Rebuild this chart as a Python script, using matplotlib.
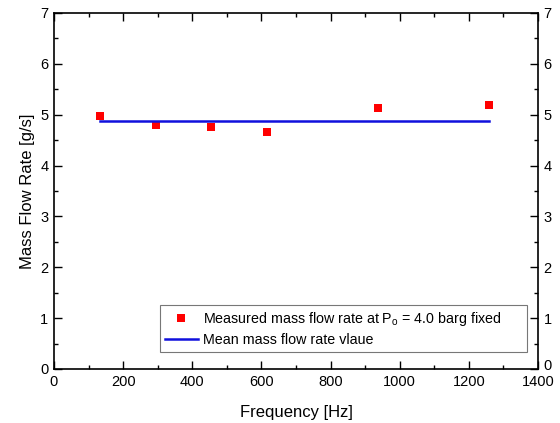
import matplotlib
matplotlib.use("Agg")
import matplotlib.pyplot as plt
from matplotlib.ticker import MultipleLocator
from matplotlib.transforms import ScaledTranslation

plt.rcParams['font.family'] = ['Liberation Sans', 'DejaVu Sans']
plt.rcParams['mathtext.fontset'] = 'custom'
plt.rcParams['mathtext.rm'] = 'Liberation Sans'
plt.rcParams['mathtext.it'] = 'Liberation Sans:italic'

freq = [134, 295, 455, 616, 936, 1257]
mass_flow = [4.98, 4.79, 4.76, 4.66, 5.14, 5.20]
mean_freq = [134, 1257]
mean_value = [4.88, 4.88]

fig = plt.figure(figsize=(5.6, 4.23), dpi=100)
ax = fig.add_axes([0.0964, 0.1277, 0.8643, 0.8416])

ax.plot(freq, mass_flow, 's', color='#ff0000', markersize=6, markeredgewidth=0,
        label=r'Measured mass flow rate at P$_{\mathrm{o}}$ = 4.0 barg fixed')
ax.plot(mean_freq, mean_value, '-', color='#1010dd', linewidth=1.8,
        label='Mean mass flow rate vlaue')

ax.set_xlim(0, 1400)
ax.set_ylim(0, 7)
ax.xaxis.set_major_locator(MultipleLocator(200))
ax.xaxis.set_minor_locator(MultipleLocator(100))
ax.yaxis.set_major_locator(MultipleLocator(1))
ax.yaxis.set_minor_locator(MultipleLocator(0.5))
ax.tick_params(which='both', direction='in', top=True, right=True,
               labelright=True, labelsize=10.5, width=1, pad=4)
ax.tick_params(which='major', length=6)
ax.tick_params(which='minor', length=3)
for s in ax.spines.values():
    s.set_linewidth(1.2)

ax.set_xlabel('Frequency [Hz]', fontsize=12, labelpad=12)
ax.set_ylabel('Mass Flow Rate [g/s]', fontsize=12, labelpad=4)

leg = ax.legend(loc='lower left', bbox_to_anchor=(0.219, 0.048, 0.758, 0.12),
                mode='expand', fontsize=10.3,
                frameon=True, fancybox=False, edgecolor='#555555',
                handlelength=2.3, borderpad=0.35, labelspacing=0.35,
                handletextpad=0.35, borderaxespad=0)
leg.get_frame().set_linewidth(0.8)

# nudge the right-hand "0" label up slightly so it does not collide with "1400"
fig.canvas.draw()
for tick in ax.yaxis.get_major_ticks():
    if abs(tick.get_loc()) < 1e-9:
        lab = tick.label2
        lab.set_transform(lab.get_transform() +
                          ScaledTranslation(0, 3 / 72, fig.dpi_scale_trans))

fig.savefig('out.png', dpi=100)
